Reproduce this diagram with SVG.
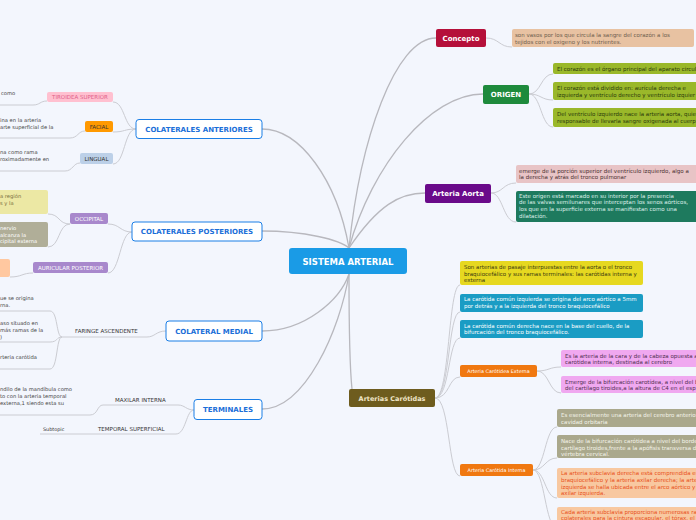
<svg xmlns="http://www.w3.org/2000/svg" width="696" height="520" viewBox="0 0 696 520">
<style>
text{font-family:"DejaVu Sans","Verdana",sans-serif}
.t{font-size:5.5px}
.l{font-size:5.2px;fill:#444444}
.tag{font-size:4.9px}
.cap{font-size:5.5px}
.main{font-size:7px;font-weight:bold;fill:#1a6ed8;text-anchor:middle}
.mbox{fill:#ffffff;stroke:#1a7ee6;stroke-width:1}
.c{fill:none;stroke:#b8b8be;stroke-width:1.3}
.s{fill:none;stroke:#cbccd2;stroke-width:1}
</style>
<rect width="696" height="520" fill="#f3f6fd"/>
<g id="connectors">
<path class="c" d="M349,248 C360,140 395,38 436,38"/>
<path class="c" d="M349,248 C372,165 430,94 483,94"/>
<path class="c" d="M349,248 C378,205 400,193 425,193"/>
<path class="c" d="M262,129 C300,129 337,180 349,248"/>
<path class="c" d="M262,231 C305,231 340,240 349,248"/>
<path class="c" d="M262,331 C305,331 340,300 349,274"/>
<path class="c" d="M262,409 C305,409 340,330 349,274"/>
<path class="c" d="M349,274 C349,330 350,370 352,389"/>
<path class="s" d="M486,38 C499,38 499,47 512,47"/>
<path class="s" d="M529,94 C541,94 541,74 553,74"/>
<path class="s" d="M529,94 C541,94 541,100 553,100"/>
<path class="s" d="M529,94 C541,94 541,127 553,127"/>
<path class="s" d="M491,193 C503,193 503,183 516,183"/>
<path class="s" d="M491,193 C503,193 503,222 516,222"/>
<path class="s" d="M435,398 C450,398 448,285 460,285"/>
<path class="s" d="M435,398 C450,398 448,312 460,312"/>
<path class="s" d="M435,398 C450,398 448,338 460,338"/>
<path class="s" d="M435,398 C450,398 448,377 460,377"/>
<path class="s" d="M435,398 C450,398 448,476 460,476"/>
<path class="s" d="M537,371 C549,371 549,367 561,367"/>
<path class="s" d="M537,371 C549,371 549,393 561,393"/>
<path class="s" d="M533,470 C545,470 545,427 557,427"/>
<path class="s" d="M533,470 C545,470 545,458 557,458"/>
<path class="s" d="M533,470 C545,470 545,498 557,498"/>
<path class="s" d="M533,470 C545,470 545,528 557,528"/>
<path class="s" d="M136,129 C124,129 125,102 113,102"/>
<path class="s" d="M136,129 C124,129 125,132 113,132"/>
<path class="s" d="M136,129 C124,129 125,164 113,164"/>
<path class="s" d="M47,101 C40,101 40,105 33,105 L0,105"/>
<path class="s" d="M85,131 C78,131 78,138 70,138 L0,138"/>
<path class="s" d="M80,163 C73,163 73,171 65,171 L0,171"/>
<path class="s" d="M132,232 C120,232 120,224 108,224"/>
<path class="s" d="M132,232 C120,232 120,273 108,273"/>
<path class="s" d="M70,224 C58,224 60,214 48,214"/>
<path class="s" d="M70,224 C58,224 60,247 48,247"/>
<path class="s" d="M33,273 C22,273 22,277 10,277"/>
<path class="s" d="M166,331 C156,331 155,337 147,337 L62,337"/>
<path class="s" d="M62,337 C56,337 58,311 50,311 L0,311"/>
<path class="s" d="M62,337 C56,337 58,342 50,342 L0,342"/>
<path class="s" d="M62,337 C56,337 58,369 50,369 L0,369"/>
<path class="s" d="M194,410 C186,410 185,405 178,405 L103,405"/>
<path class="s" d="M103,405 C97,405 98,415 90,415 L0,415"/>
<path class="s" d="M194,410 C186,410 186,434 176,434 L40,434"/>
</g>
<g id="root">
<rect x="289" y="248" width="118" height="26" rx="3" fill="#1a9be6"/>
<text x="348" y="264.5" font-size="8.5" font-weight="bold" fill="#ffffff" text-anchor="middle">SISTEMA ARTERIAL</text>
</g>
<g id="concepto">
<rect x="436" y="29" width="50" height="18" rx="2" fill="#b5103a"/>
<text x="461" y="40.5" font-size="7" font-weight="bold" fill="#ffffff" text-anchor="middle">Concepto</text>
<rect x="512" y="29" width="182" height="18" rx="2" fill="#e8c2a2"/>
<text class="t" x="515" y="37" fill="#6e5e4e">son vasos por los que circula la sangre del corazón a los</text>
<text class="t" x="515" y="44" fill="#6e5e4e">tejidos con el oxigeno y los nutrientes.</text>
</g>
<g id="origen">
<rect x="483" y="85" width="46" height="19" rx="2" fill="#1e8a3c"/>
<text x="506" y="97" font-size="7" font-weight="bold" fill="#ffffff" text-anchor="middle">ORIGEN</text>
<rect x="553" y="63" width="150" height="11" rx="2" fill="#9ab82a"/>
<text class="t" x="557" y="70.5" fill="#2a3a0a">El corazón es el órgano principal del aparato circul</text>
<rect x="553" y="82" width="150" height="18" rx="2" fill="#9ab82a"/>
<text class="t" x="557" y="89.5" fill="#2a3a0a">El corazón está dividido en:  aurícula derecha e</text>
<text class="t" x="557" y="96.5" fill="#2a3a0a">izquierda y ventrículo derecho y ventrículo izquier</text>
<rect x="553" y="108" width="150" height="19" rx="2" fill="#9ab82a"/>
<text class="t" x="557" y="115.5" fill="#2a3a0a">Del ventrículo izquierdo nace la arteria aorta, quie</text>
<text class="t" x="557" y="122.5" fill="#2a3a0a">responsable de llevarla sangre oxigenada al cuerp</text>
</g>
<g id="aorta">
<rect x="425" y="184" width="66" height="19" rx="2" fill="#6a0a8a"/>
<text x="458" y="196" font-size="7" font-weight="bold" fill="#ffffff" text-anchor="middle">Arteria Aorta</text>
<rect x="516" y="165" width="184" height="18" rx="2" fill="#e8c4c6"/>
<text class="t" x="519" y="172.5" fill="#4a3030">emerge de la porción superior del ventrículo izquierdo, algo a</text>
<text class="t" x="519" y="179" fill="#4a3030">la derecha y atrás del tronco pulmonar</text>
<rect x="516" y="191" width="184" height="31" rx="2" fill="#1e7a5e"/>
<text class="t" x="519" y="197.5" fill="#dff0ea">Este origen está marcado en su interior por la presencia</text>
<text class="t" x="519" y="204" fill="#dff0ea">de las valvas semilunares que interceptan los senos aórticos,</text>
<text class="t" x="519" y="211" fill="#dff0ea">los que en la superficie externa se manifiestan como una</text>
<text class="t" x="519" y="217.5" fill="#dff0ea">dilatación.</text>
</g>
<g id="carotidas">
<rect x="349" y="389" width="86" height="18" rx="2" fill="#6e5c1e"/>
<text x="392" y="400.5" font-size="6.5" font-weight="bold" fill="#f0e6c8" text-anchor="middle">Arterias Carótidas</text>
<rect x="460" y="261" width="183" height="24" rx="2" fill="#e6d820"/>
<text class="t" x="464" y="268.5" fill="#3a3a10">Son arterias de pasaje interpuestas entre la aorta o el tronco</text>
<text class="t" x="464" y="275.5" fill="#3a3a10">braquiocefálico y sus ramas terminales: las carótidas interna y</text>
<text class="t" x="464" y="282" fill="#3a3a10">externa</text>
<rect x="460" y="294" width="183" height="18" rx="2" fill="#1a9cc4"/>
<text class="t" x="464" y="301" fill="#ffffff">La carótida común izquierda se origina del arco aórtico a 5mm</text>
<text class="t" x="464" y="307.5" fill="#ffffff">por detrás y a la izquierda del tronco braquiocefálico</text>
<rect x="460" y="320" width="183" height="18" rx="2" fill="#1a9cc4"/>
<text class="t" x="464" y="327.5" fill="#ffffff">La carótida común derecha nace en la base del cuello, de la</text>
<text class="t" x="464" y="334" fill="#ffffff">bifurcación del tronco braquiocefálico.</text>
</g>
<g id="externa">
<rect x="460" y="365" width="77" height="12" rx="2" fill="#f07810"/>
<text class="tag" x="498.5" y="372.8" fill="#ffffff" text-anchor="middle">Arteria Carótidea Externa</text>
<rect x="561" y="350" width="140" height="17" rx="2" fill="#f0a8f0"/>
<text class="t" x="565" y="357.5" fill="#503050">Es la arteria de la cara y de la cabeza opuesta a</text>
<text class="t" x="565" y="364" fill="#503050">carótidea interna, destinada al cerebro</text>
<rect x="561" y="376" width="140" height="17" rx="2" fill="#f0a8f0"/>
<text class="t" x="565" y="383.5" fill="#503050">Emerge de la bifurcación carotídea, a nivel del b</text>
<text class="t" x="565" y="390" fill="#503050">del cartílago tiroides,a la altura de C4 en el esp</text>
</g>
<g id="interna">
<rect x="460" y="464" width="73" height="12" rx="2" fill="#f07810"/>
<text class="tag" x="496.5" y="471.8" fill="#ffffff" text-anchor="middle">Arteria Carótida Interna</text>
<rect x="557" y="409" width="145" height="18" rx="2" fill="#aaa88c"/>
<text class="t" x="561" y="416.5" fill="#f4f4ea">Es esencialmente una arteria del cerebro anterior</text>
<text class="t" x="561" y="423.5" fill="#f4f4ea">cavidad orbitaria</text>
<rect x="557" y="435" width="145" height="23" rx="2" fill="#aaa88c"/>
<text class="t" x="561" y="442.5" fill="#f4f4ea">Nace de la bifurcación carótidea a nivel del borde</text>
<text class="t" x="561" y="449.5" fill="#f4f4ea">cartílago tiroides,frente a la apófisis transversa d</text>
<text class="t" x="561" y="456" fill="#f4f4ea">vértebra cervical.</text>
<rect x="557" y="468" width="145" height="30" rx="2" fill="#f8c8a0"/>
<text class="t" x="561" y="475" fill="#e8501a">La arteria subclavia derecha está comprendida en</text>
<text class="t" x="561" y="481.5" fill="#e8501a">braquiocefálico y la arteria axilar derecha; la arte</text>
<text class="t" x="561" y="488.5" fill="#e8501a">izquierda se halla ubicada entre el arco aórtico y</text>
<text class="t" x="561" y="495" fill="#e8501a">axilar izquierda.</text>
<rect x="557" y="507" width="145" height="20" rx="2" fill="#f8c8a0"/>
<text class="t" x="561" y="514" fill="#e8501a">Cada arteria subclavia proporciona numerosas ra</text>
<text class="t" x="561" y="519.5" fill="#e8501a">colaterales para la cintura escapular, el tórax, el</text>
</g>
<g id="colaterales-anteriores">
<rect class="mbox" x="136" y="119.5" width="126" height="19" rx="3"/>
<text class="main" x="199" y="131.5">COLATERALES ANTERIORES</text>
<rect x="47" y="92" width="66" height="10" rx="2" fill="#ffc0d0"/>
<text class="cap" x="80" y="99" fill="#e0608a" text-anchor="middle">TIROIDEA SUPERIOR</text>
<text class="l" x="1" y="95">como</text>
<rect x="85" y="121" width="28" height="11" rx="2" fill="#ff9900"/>
<text class="cap" x="99" y="128.5" fill="#333333" text-anchor="middle">FACIAL</text>
<text class="l" x="0" y="121.5">ina en la arteria</text>
<text class="l" x="0" y="128.5">arte superficial de la</text>
<rect x="80" y="153" width="33" height="11" rx="2" fill="#bcd0e8"/>
<text class="cap" x="96.5" y="160.5" fill="#333333" text-anchor="middle">LINGUAL</text>
<text class="l" x="0" y="154">na como rama</text>
<text class="l" x="0" y="161">roximadamente en</text>
</g>
<g id="colaterales-posteriores">
<rect class="mbox" x="132" y="222" width="130" height="19" rx="3"/>
<text class="main" x="197" y="234">COLATERALES POSTERIORES</text>
<rect x="70" y="213" width="38" height="11" rx="2" fill="#a888cc"/>
<text class="cap" x="89" y="220.5" fill="#ffffff" text-anchor="middle">OCCIPITAL</text>
<rect x="-4" y="190" width="52" height="24" rx="2" fill="#ece8a4"/>
<text class="l" x="0" y="197.5" style="fill:#7a7040">a región</text>
<text class="l" x="0" y="204.5" style="fill:#7a7040">s y la</text>
<rect x="-4" y="222" width="52" height="25" rx="2" fill="#b0ae98"/>
<text class="l" x="0" y="229.5" style="fill:#ffffff">nervio</text>
<text class="l" x="0" y="236.5" style="fill:#ffffff">alcanza la</text>
<text class="l" x="0" y="243" style="fill:#ffffff">cipital externa</text>
<rect x="33" y="262" width="75" height="11" rx="2" fill="#a888cc"/>
<text class="cap" x="70.5" y="269.5" fill="#ffffff" text-anchor="middle">AURICULAR POSTERIOR</text>
<rect x="-4" y="259" width="14" height="18" rx="2" fill="#ffc8a0"/>
</g>
<g id="colateral-medial">
<rect class="mbox" x="166" y="321" width="96" height="20" rx="3"/>
<text class="main" x="214" y="333.5">COLATERAL MEDIAL</text>
<text class="cap" x="75" y="332.5" fill="#333333">FARINGE ASCENDENTE</text>
<text class="l" x="0" y="299.5">ue se origina</text>
<text class="l" x="0" y="306.5">rna.</text>
<text class="l" x="0" y="324.5">aso situado en</text>
<text class="l" x="0" y="331.5">más ramas de la</text>
<text class="l" x="0" y="338.5">)</text>
<text class="l" x="0" y="358.5">rteria carótida</text>
</g>
<g id="terminales">
<rect class="mbox" x="194" y="399.5" width="68" height="20" rx="3"/>
<text class="main" x="228" y="412">TERMINALES</text>
<text class="cap" x="115" y="401.5" fill="#333333">MAXILAR INTERNA</text>
<text class="l" x="0" y="391">ndilo de la mandíbula como</text>
<text class="l" x="0" y="398">to con la arteria temporal</text>
<text class="l" x="0" y="405">externa,1 siendo esta su</text>
<text class="cap" x="98" y="430.5" fill="#333333">TEMPORAL SUPERFICIAL</text>
<text class="tag" x="43" y="430.5" fill="#333333">Subtopic</text>
</g>
</svg>
